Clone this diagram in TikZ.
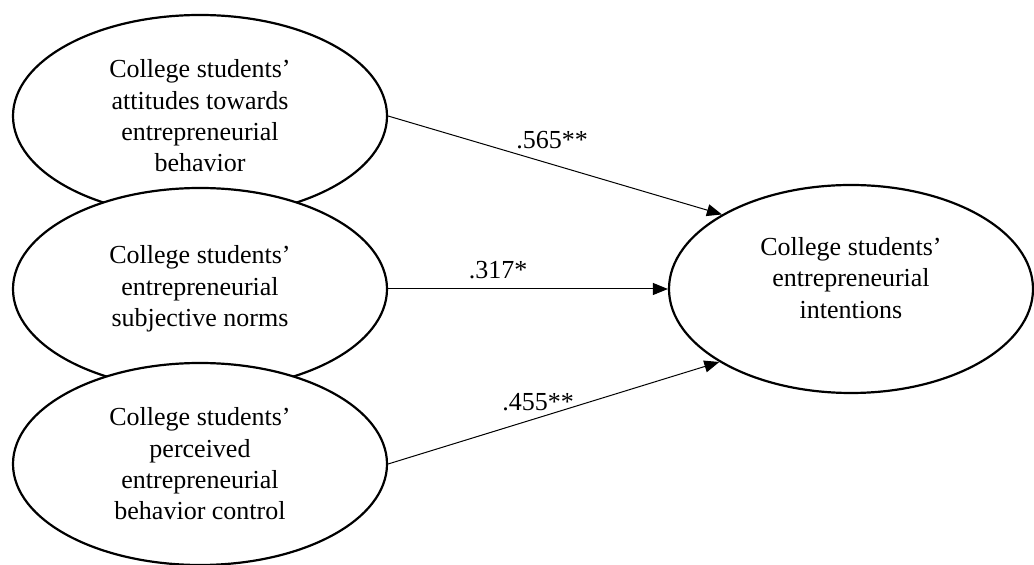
\documentclass[tikz,border=0pt]{standalone}
\usepackage{fontspec}
\setmainfont{Liberation Serif}
\usetikzlibrary{arrows.meta, shapes.geometric}

\begin{document}
\begin{tikzpicture}[x=0.5pt, y=-0.5pt,
      latent/.style={ellipse, draw=black, line width=1.1pt, fill=white,
        inner sep=0pt, minimum width=187pt, minimum height=101pt,
        align=center, font=\fontsize{13}{15.7}\selectfont},
      coef/.style={font=\fontsize{13}{15.7}\selectfont, inner sep=0pt},
      arr/.style={-{Triangle[length=7.5pt, width=6pt]}, line width=0.5pt}
    ]
    \useasboundingbox (0,0) rectangle (1034,565);
    \node[latent] (ATT) at (200,116) {College students’\\attitudes towards\\
      entrepreneurial\\behavior};
    \node[latent] (SN) at (200,289) {College students’\\entrepreneurial\\
      subjective norms};
    \node[latent] (PBC) at (200,464) {College students’\\perceived\\
      entrepreneurial\\behavior control};
    \node[latent, minimum width=182pt, minimum height=104pt] (EI) at (851,289)
      {College students’\\entrepreneurial\\intentions\\[-4.5pt]};
    \draw[arr] (ATT.east) -- (EI.150.6);
    \draw[arr] (SN.east) -- (EI.west);
    \draw[arr] (PBC.east) -- (EI.209.4);
    \node[coef] (c1) at (552,140) {.565**};
    \node[coef] (c2) at (498,270) {.317*};
    \node[coef] (c3) at (538,402) {.455**};
    \end{tikzpicture}
\end{document}
